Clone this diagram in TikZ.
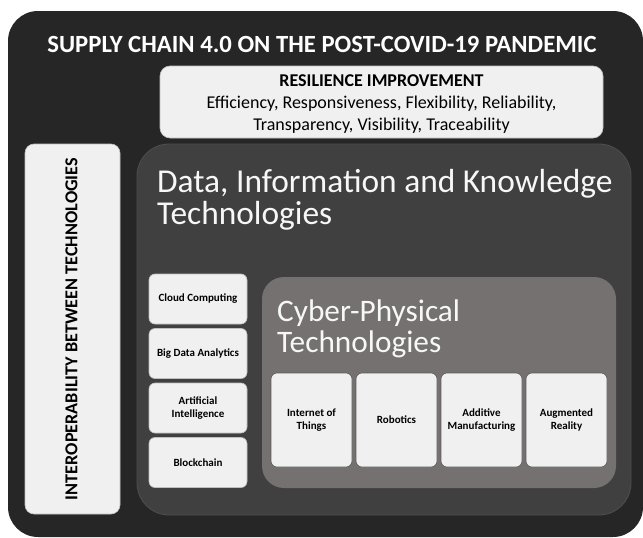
\documentclass[tikz,border=0pt]{standalone}
\usepackage{fontspec}
\setmainfont{Carlito}
\definecolor{outerc}{HTML}{262626}
\definecolor{datac}{HTML}{404040}
\definecolor{databord}{HTML}{4E4E4E}
\definecolor{cyberc}{HTML}{767171}
\definecolor{boxc}{HTML}{F0F0F0}
\definecolor{boxbord}{HTML}{BFBFBF}
\definecolor{cybbord}{HTML}{5A5A5A}
\definecolor{titlec}{HTML}{F7F7F7}
\begin{document}
\begin{tikzpicture}[x=1pt,y=-1pt,
  panel/.style={anchor=center,inner sep=0pt,outer sep=0pt},
  lightbox/.style={panel,fill=boxc,draw=boxbord,line width=0.6pt,rounded corners=6pt},
  techbox/.style={lightbox,minimum width=98pt,minimum height=50pt,align=center,
    font=\bfseries\fontsize{11}{13}\selectfont},
  cpbox/.style={lightbox,draw=cybbord,minimum width=81pt,minimum height=94pt,align=center,
    font=\bfseries\fontsize{11}{13}\selectfont},
  bigtitle/.style={anchor=west,inner sep=0pt,align=left,text=titlec}
]
\useasboundingbox (0,0) rectangle (643,538);
% outer panel
\node[panel,fill=outerc,rounded corners=30pt,minimum width=635pt,minimum height=526pt] (outer) at (325.5,274) {};
\node[inner sep=0pt,text=white,font=\bfseries\fontsize{24.7}{28}\selectfont] (title) at (322,44) {SUPPLY CHAIN 4.0 ON THE POST-COVID-19 PANDEMIC};
% resilience
\node[lightbox,rounded corners=10pt,minimum width=443pt,minimum height=72pt] (res) at (381.5,102) {};
\node[inner sep=0pt,align=center,font=\fontsize{18}{22}\selectfont] (reslbl) at (381.5,104)
  {\textbf{RESILIENCE IMPROVEMENT}\\Efficiency, Responsiveness, Flexibility, Reliability,\\Transparency, Visibility, Traceability};
% interoperability
\node[lightbox,rounded corners=9pt,minimum width=95pt,minimum height=370pt] (inter) at (72.5,329) {};
\node[inner sep=0pt,rotate=90,font=\bfseries\fontsize{18.2}{22}\selectfont] (interlbl) at (71.5,329) {INTEROPERABILITY BETWEEN TECHNOLOGIES};
% data panel
\node[panel,fill=datac,draw=databord,line width=0.8pt,rounded corners=32pt,minimum width=494pt,minimum height=371pt] (data) at (384,329.5) {};
\node[bigtitle,font=\fontsize{33.4}{32}\selectfont] (datatitle) at (157,200) {Data, Information and Knowledge\\Technologies};
% left tech boxes
\node[techbox] (cloud) at (198,299) {Cloud Computing};
\node[techbox] (bigdata) at (198,353.5) {Big Data Analytics};
\node[techbox] (ai) at (198,408) {Artificial\\Intelligence};
\node[techbox] (block) at (198,462.5) {Blockchain};
% cyber panel
\node[panel,fill=cyberc,rounded corners=22pt,minimum width=354pt,minimum height=211pt] (cyber) at (439,382.5) {};
\node[bigtitle,font=\fontsize{31.3}{31}\selectfont] (cybertitle) at (277,328.5) {Cyber-Physical\\Technologies};
\node[cpbox] (iot) at (311.5,420) {Internet of\\Things};
\node[cpbox] (robot) at (396.5,420) {Robotics};
\node[cpbox] (additive) at (481.5,420) {Additive\\Manufacturing};
\node[cpbox] (ar) at (566.5,420) {Augmented\\Reality};
\end{tikzpicture}
\end{document}
